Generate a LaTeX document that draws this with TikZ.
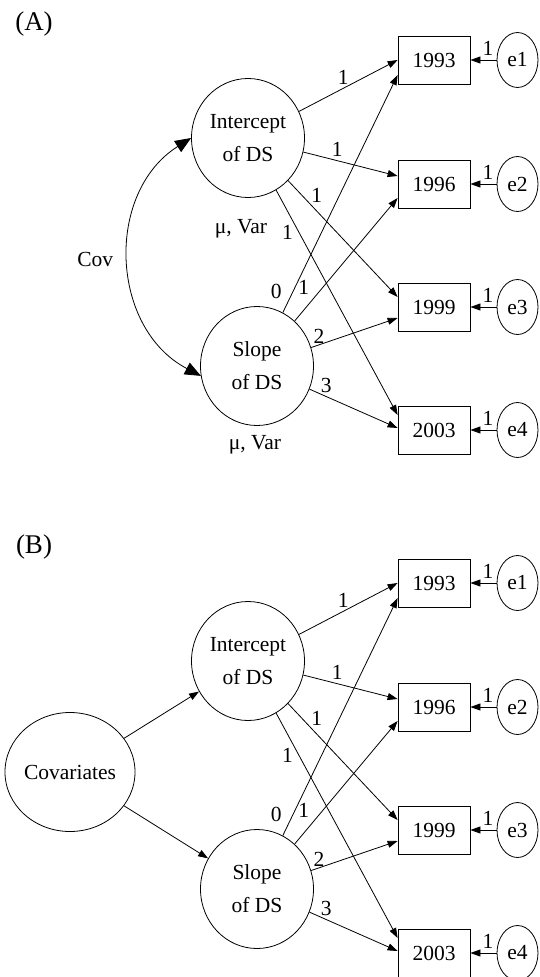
\documentclass[tikz,border=0pt]{standalone}
\usepackage{fontspec}
\setmainfont{Liberation Serif}
\usetikzlibrary{arrows.meta,shapes.geometric}

\begin{document}
\begin{tikzpicture}[x=1pt, y=-1pt, line width=0.8pt,
    every node/.style={font=\fontsize{21.5}{33}\selectfont},
    latent/.style={draw, ellipse, minimum width=113pt, minimum height=119pt, inner sep=0pt, align=center},
    obs/.style={draw, rectangle, minimum width=72pt, minimum height=48pt, inner sep=0pt},
    resid/.style={draw, ellipse, minimum width=41pt, minimum height=55pt, inner sep=0pt},
    lbl/.style={inner sep=1pt},
    load/.style={-{Triangle[length=10pt,width=7pt]}},
    cov/.style={{Triangle[length=16pt,width=13pt]}-{Triangle[length=16pt,width=13pt]}}]
    \useasboundingbox (0,0) rectangle (540,977);

    \foreach \p/\dy in {A/0,B/523}{% the two panels share the growth part
      \node[font=\fontsize{27}{30}\selectfont] (tag\p) at (34,24+\dy) {(\p)};
      \node[latent] (int\p) at (248,138+\dy) {Intercept\\of DS};
      \node[latent] (slp\p) at (257,366+\dy) {Slope\\of DS};
      \foreach \yr/\yy/\n in {1993/60/1,1996/184/2,1999/307/3,2003/430/4}{
        \node[obs] (y\yr\p) at (434,\yy+\dy) {\yr};
        \node[resid] (e\n\p) at (517.5,\yy+\dy) {e\n};
        \draw[load] (e\n\p) -- node[lbl,pos=.33,above=3pt] (r\n\p) {1} (y\yr\p);
      }
      % intercept loadings, all fixed at 1
      \draw[load] (int\p) -- node[lbl,pos=.45,above=2pt] (li1\p) {1} (y1993\p.west);
      \draw[load] (int\p) -- node[lbl,pos=.36,above=3pt] (li2\p) {1} ([yshift=8pt]y1996\p.west);
      \draw[load] (int\p) -- node[lbl,pos=.2,above right] (li3\p) {1} ([yshift=10pt]y1999\p.west);
      \draw[load] (int\p) -- node[lbl,pos=.19,left=5pt] (li4\p) {1} ([yshift=15pt]y2003\p.west);
      % slope loadings, time scores 0-1-2-3
      \draw[load] (slp\p) -- node[lbl,pos=.09,left=10pt] (ls1\p) {0} ([yshift=-15pt]y1993\p.west);
      \draw[load] (slp\p) -- node[lbl,pos=.27,left=12pt] (ls2\p) {1} ([yshift=-14pt]y1996\p.west);
      \draw[load] (slp\p) -- node[lbl,pos=.09,above] (ls3\p) {2} ([yshift=-11pt]y1999\p.west);
      \draw[load] (slp\p) -- node[lbl,pos=.19,above=2pt] (ls4\p) {3} ([yshift=2pt]y2003\p.west);
    }

    % panel A: covariance and means of the growth factors
    \draw[cov] (intA.west) to[bend right=60, looseness=1.1] node[lbl,left=15pt] (covlab) {Cov} (slpA.190);
    \node (muI) at (241,229) {μ, Var};
    \node (muS) at (255,445) {μ, Var};

    % panel B: covariates predict both factors
    \node[latent] (covar) at (70,772) {Covariates};
    \draw[load] (covar) -- (intB);
    \draw[load] (covar) -- (slpB);
\end{tikzpicture}
\end{document}
